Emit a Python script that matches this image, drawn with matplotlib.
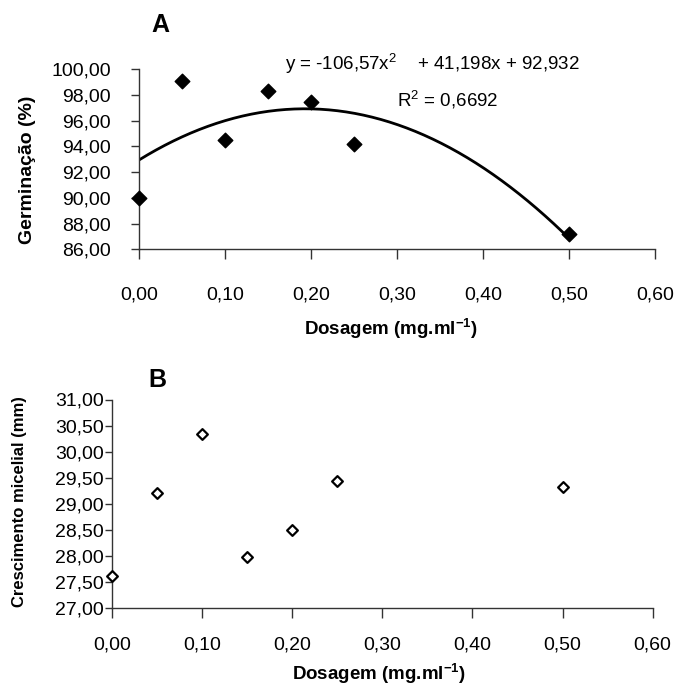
import numpy as np
import matplotlib
matplotlib.use("Agg")
from matplotlib import pyplot as plt

plt.rcParams['font.family'] = ['Liberation Sans', 'DejaVu Sans']
plt.rcParams['mathtext.fontset'] = 'custom'
plt.rcParams['mathtext.rm'] = 'Liberation Sans'
plt.rcParams['mathtext.bf'] = 'Liberation Sans:bold'

# dados
dosagem = [0.00, 0.05, 0.10, 0.15, 0.20, 0.25, 0.50]
germinacao = [90.02, 99.10, 94.47, 98.26, 97.41, 94.22, 87.24]
crescimento = [27.60, 29.20, 30.34, 27.97, 28.50, 29.43, 29.32]

# coeficientes da linha de tendencia (da equacao no grafico)
coef = [-106.57, 41.198, 92.932]

xticks = [0.0, 0.1, 0.2, 0.3, 0.4, 0.5, 0.6]
xlabels = ['0,00', '0,10', '0,20', '0,30', '0,40', '0,50', '0,60']
yticks_a = [86, 88, 90, 92, 94, 96, 98, 100]
ylabels_a = ['86,00', '88,00', '90,00', '92,00', '94,00', '96,00', '98,00', '100,00']
yticks_b = [27.0, 27.5, 28.0, 28.5, 29.0, 29.5, 30.0, 30.5, 31.0]
ylabels_b = ['27,00', '27,50', '28,00', '28,50', '29,00', '29,50', '30,00', '30,50', '31,00']

W, H = 677, 685
fig = plt.figure(figsize=(W / 100, H / 100), dpi=100)


def fx(px):
    return px / W


def fy(py):
    return 1 - py / H


def estilo(ax):
    for s in ['top', 'right']:
        ax.spines[s].set_visible(False)
    for s in ['left', 'bottom']:
        ax.spines[s].set_color('#333333')
        ax.spines[s].set_linewidth(1.0)
    ax.tick_params(colors='#333333', labelcolor='black', width=1.0)


# painel A
ax1 = fig.add_axes([fx(138.8), fy(249.5), fx(654.8 - 138.8), (249.5 - 69) / H])
estilo(ax1)
ax1.scatter(dosagem, germinacao, marker='D', s=55, color='black', zorder=3, clip_on=False)
xs = np.linspace(0, 0.5, 200)
ax1.plot(xs, np.polyval(coef, xs), color='black', lw=2.0, zorder=2)
ax1.set_xlim(0, 0.6)
ax1.set_ylim(86, 100)
ax1.set_xticks(xticks)
ax1.set_xticklabels(xlabels, fontsize=14)
ax1.set_yticks(yticks_a)
ax1.set_yticklabels(ylabels_a, fontsize=14)
ax1.tick_params(axis='x', length=7, pad=20)
ax1.tick_params(axis='y', length=6, pad=14)

fig.text(fx(160), fy(25), 'A', fontsize=18, fontweight='bold', ha='center', va='center')
fig.text(fx(285), fy(64), 'y = -106,57x$^2$    + 41,198x + 92,932', fontsize=13.5,
         ha='left', va='center')
fig.text(fx(397), fy(100), 'R$^2$ = 0,6692', fontsize=13.5, ha='left', va='center')
fig.text(fx(28), fy(170), 'Germinação (%)', fontsize=14, fontweight='bold',
         rotation=90, ha='center', va='center')
fig.text(fx(391), fy(329), r'Dosagem (mg.ml$^{\mathbf{-1}}$)', fontsize=13.5,
         fontweight='bold', ha='center', va='center')

# painel B
ax2 = fig.add_axes([fx(112), fy(607.7), fx(652.6 - 112), (607.7 - 399.5) / H])
estilo(ax2)
ax2.scatter(dosagem, crescimento, marker='D', s=30, facecolor='white', edgecolor='black',
            linewidths=1.6, zorder=3, clip_on=False)
ax2.set_xlim(0, 0.6)
ax2.set_ylim(27, 31)
ax2.set_xticks(xticks)
ax2.set_xticklabels(xlabels, fontsize=14)
ax2.set_yticks(yticks_b)
ax2.set_yticklabels(ylabels_b, fontsize=14)
ax2.tick_params(axis='x', length=7, pad=14)
ax2.tick_params(axis='y', length=5, pad=1)

fig.text(fx(157), fy(380), 'B', fontsize=18, fontweight='bold', ha='center', va='center')
fig.text(fx(20), fy(502), 'Crescimento micelial (mm)', fontsize=12, fontweight='bold',
         rotation=90, ha='center', va='center')
fig.text(fx(379), fy(674), r'Dosagem (mg.ml$^{\mathbf{-1}}$)', fontsize=13.5,
         fontweight='bold', ha='center', va='center')

fig.savefig('out.png', dpi=100)
